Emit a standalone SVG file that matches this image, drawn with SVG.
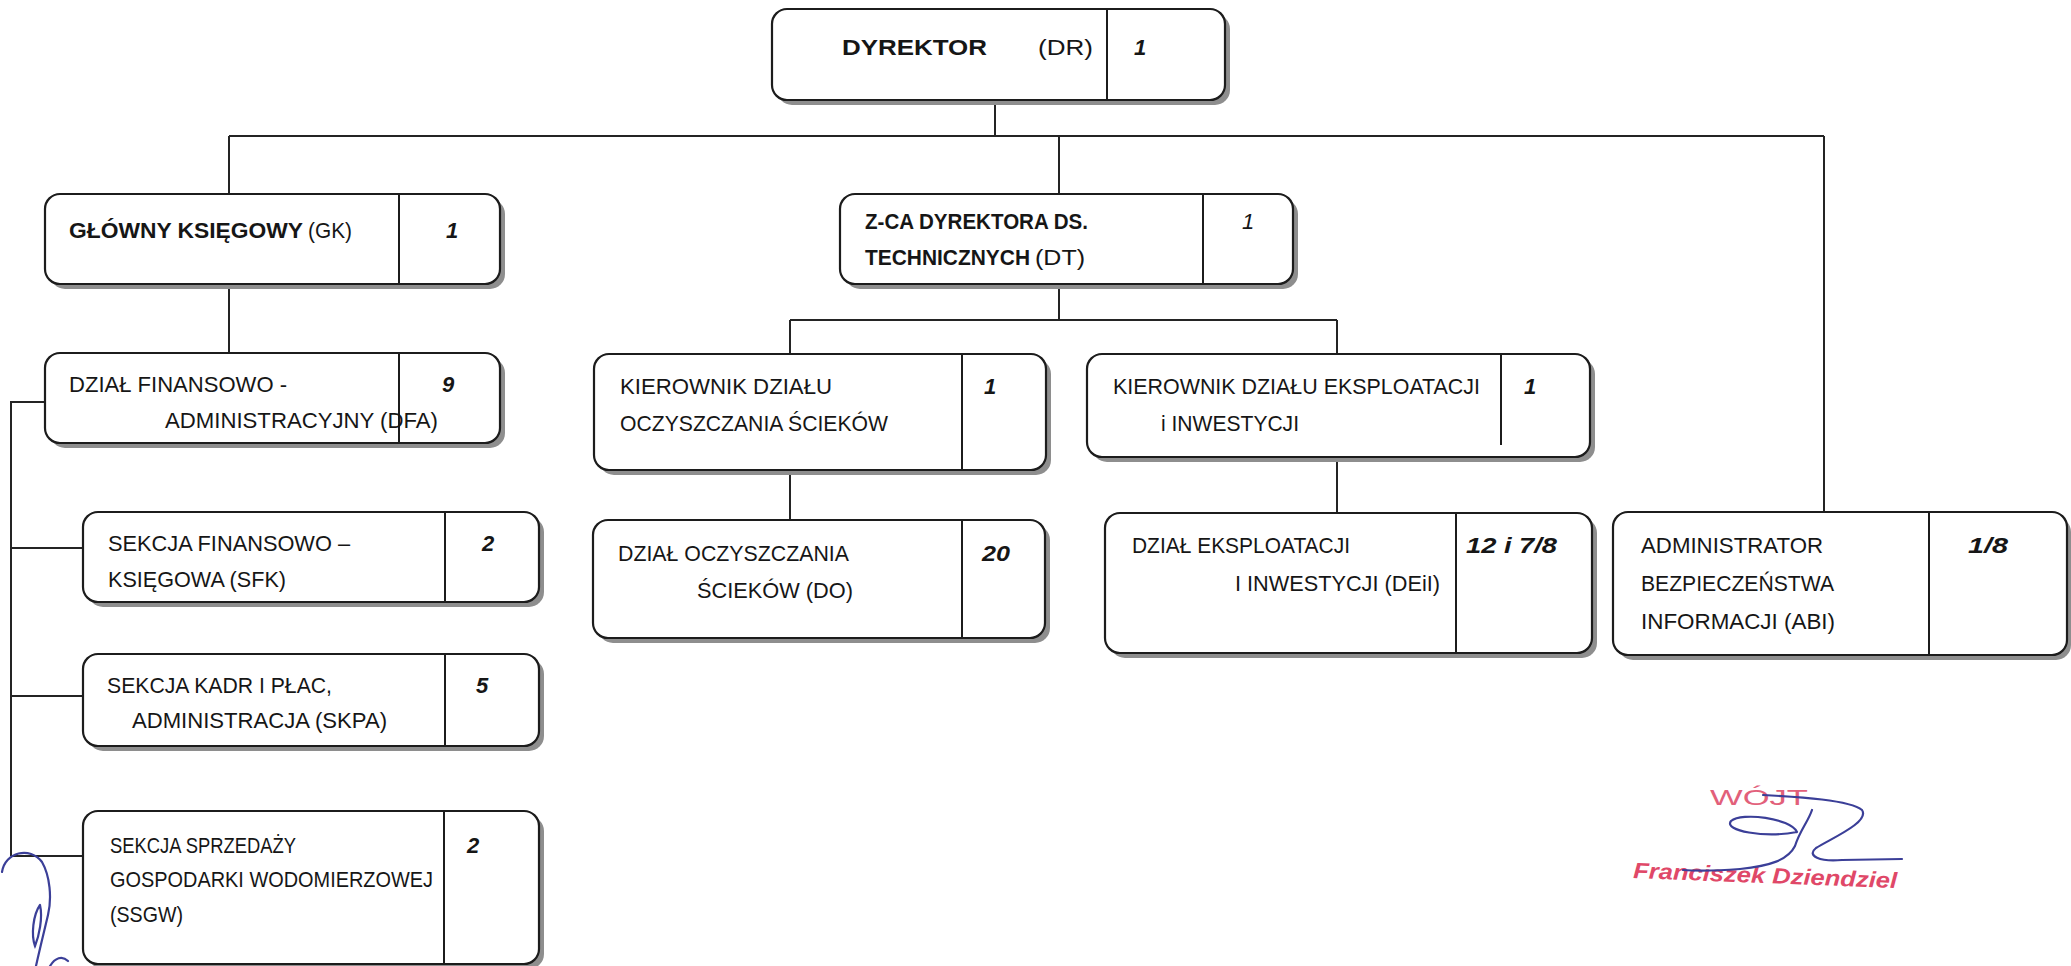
<svg xmlns="http://www.w3.org/2000/svg" width="2071" height="966" viewBox="0 0 2071 966">
<style>
.bx{fill:#fff;stroke:#1c1c1c;stroke-width:2.2}
.sh{fill:#8e8e8e}
.dv{stroke:#1c1c1c;stroke-width:2}
.cn{fill:none;stroke:#242424;stroke-width:2}
text{font-family:"Liberation Sans",Arial,sans-serif;fill:#161616;font-size:22px}
.b{font-weight:bold}
.n{font-weight:bold;font-style:italic}
.i{font-style:italic}
.sig{fill:none;stroke:#3b3f98;stroke-width:2.2;stroke-linecap:round}
</style>
<rect width="2071" height="966" fill="#fff"/>
<g id="connectors">
<path class="cn" d="M995,100 V136 M229,136 H1824 M229,136 V194 M1059,136 V194 M1824,136 V512"/>
<path class="cn" d="M229,284 V353"/>
<path class="cn" d="M1059,284 V320 M790,320 H1337 M790,320 V354 M1337,320 V354"/>
<path class="cn" d="M790,472 V520 M1337,444 V513"/>
<path class="cn" d="M45,402 H11 V856 M11,548 H83 M11,696 H83 M11,856 H83"/>
</g>
<g id="DR">
<rect class="sh" x="777" y="14" width="453" height="91" rx="15"/>
<rect class="bx" x="772" y="9" width="453" height="91" rx="15"/>
<line class="dv" x1="1107" y1="9" x2="1107" y2="100"/>
<text class="b" x="842" y="55" font-size="28" textLength="145" lengthAdjust="spacingAndGlyphs">DYREKTOR</text>
<text x="1038" y="55" font-size="27" textLength="55" lengthAdjust="spacingAndGlyphs">(DR)</text>
<text class="n" x="1134" y="55" font-size="26">1</text>
</g>
<g id="GK">
<rect class="sh" x="50" y="199" width="455" height="90" rx="15"/>
<rect class="bx" x="45" y="194" width="455" height="90" rx="15"/>
<line class="dv" x1="399" y1="194" x2="399" y2="284"/>
<text class="b" x="69" y="238" textLength="234" lengthAdjust="spacingAndGlyphs">GŁÓWNY KSIĘGOWY</text>
<text x="308" y="238" textLength="44" lengthAdjust="spacingAndGlyphs">(GK)</text>
<text class="n" x="446" y="238">1</text>
</g>
<g id="DT">
<rect class="sh" x="845" y="199" width="453" height="90" rx="15"/>
<rect class="bx" x="840" y="194" width="453" height="90" rx="15"/>
<line class="dv" x1="1203" y1="194" x2="1203" y2="284"/>
<text class="b" x="865" y="229" textLength="223" lengthAdjust="spacingAndGlyphs">Z-CA DYREKTORA DS.</text>
<text class="b" x="865" y="265" textLength="165" lengthAdjust="spacingAndGlyphs">TECHNICZNYCH</text>
<text x="1035" y="265" textLength="50" lengthAdjust="spacingAndGlyphs">(DT)</text>
<text class="i" x="1242" y="229">1</text>
</g>
<g id="DFA">
<rect class="sh" x="50" y="358" width="455" height="90" rx="15"/>
<rect class="bx" x="45" y="353" width="455" height="90" rx="15"/>
<line class="dv" x1="399" y1="353" x2="399" y2="443"/>
<text x="69" y="392" textLength="218" lengthAdjust="spacingAndGlyphs">DZIAŁ FINANSOWO -</text>
<text x="165" y="428" textLength="273" lengthAdjust="spacingAndGlyphs">ADMINISTRACYJNY (DFA)</text>
<text class="n" x="442" y="392">9</text>
</g>
<g id="SFK">
<rect class="sh" x="88" y="517" width="456" height="90" rx="15"/>
<rect class="bx" x="83" y="512" width="456" height="90" rx="15"/>
<line class="dv" x1="445" y1="512" x2="445" y2="602"/>
<text x="108" y="551" textLength="242" lengthAdjust="spacingAndGlyphs">SEKCJA FINANSOWO –</text>
<text x="108" y="587" textLength="178" lengthAdjust="spacingAndGlyphs">KSIĘGOWA (SFK)</text>
<text class="n" x="482" y="551">2</text>
</g>
<g id="SKPA">
<rect class="sh" x="88" y="659" width="456" height="92" rx="15"/>
<rect class="bx" x="83" y="654" width="456" height="92" rx="15"/>
<line class="dv" x1="445" y1="654" x2="445" y2="746"/>
<text x="107" y="693" textLength="225" lengthAdjust="spacingAndGlyphs">SEKCJA KADR I PŁAC,</text>
<text x="132" y="728" textLength="255" lengthAdjust="spacingAndGlyphs">ADMINISTRACJA (SKPA)</text>
<text class="n" x="476" y="693">5</text>
</g>
<g id="SSGW">
<rect class="sh" x="88" y="816" width="456" height="153" rx="15"/>
<rect class="bx" x="83" y="811" width="456" height="153" rx="15"/>
<line class="dv" x1="444" y1="811" x2="444" y2="964"/>
<text x="110" y="853" textLength="186" lengthAdjust="spacingAndGlyphs">SEKCJA SPRZEDAŻY</text>
<text x="110" y="887" textLength="323" lengthAdjust="spacingAndGlyphs">GOSPODARKI WODOMIERZOWEJ</text>
<text x="110" y="922" textLength="73" lengthAdjust="spacingAndGlyphs">(SSGW)</text>
<text class="n" x="467" y="853">2</text>
</g>
<g id="KDO">
<rect class="sh" x="599" y="359" width="452" height="116" rx="15"/>
<rect class="bx" x="594" y="354" width="452" height="116" rx="15"/>
<line class="dv" x1="962" y1="354" x2="962" y2="470"/>
<text x="620" y="394" textLength="212" lengthAdjust="spacingAndGlyphs">KIEROWNIK DZIAŁU</text>
<text x="620" y="431" textLength="268" lengthAdjust="spacingAndGlyphs">OCZYSZCZANIA ŚCIEKÓW</text>
<text class="n" x="984" y="394">1</text>
</g>
<g id="DO">
<rect class="sh" x="598" y="525" width="452" height="118" rx="15"/>
<rect class="bx" x="593" y="520" width="452" height="118" rx="15"/>
<line class="dv" x1="962" y1="520" x2="962" y2="638"/>
<text x="618" y="561" textLength="231" lengthAdjust="spacingAndGlyphs">DZIAŁ OCZYSZCZANIA</text>
<text x="697" y="598" textLength="156" lengthAdjust="spacingAndGlyphs">ŚCIEKÓW (DO)</text>
<text class="n" x="982" y="561" textLength="28" lengthAdjust="spacingAndGlyphs">20</text>
</g>
<g id="KDE">
<rect class="sh" x="1092" y="359" width="503" height="103" rx="15"/>
<rect class="bx" x="1087" y="354" width="503" height="103" rx="15"/>
<line class="dv" x1="1501" y1="354" x2="1501" y2="445"/>
<text x="1113" y="394" textLength="367" lengthAdjust="spacingAndGlyphs">KIEROWNIK DZIAŁU EKSPLOATACJI</text>
<text x="1161" y="431" textLength="138" lengthAdjust="spacingAndGlyphs">i INWESTYCJI</text>
<text class="n" x="1524" y="394">1</text>
</g>
<g id="DEiI">
<rect class="sh" x="1110" y="518" width="487" height="140" rx="15"/>
<rect class="bx" x="1105" y="513" width="487" height="140" rx="15"/>
<line class="dv" x1="1456" y1="513" x2="1456" y2="653"/>
<text x="1132" y="553" textLength="218" lengthAdjust="spacingAndGlyphs">DZIAŁ EKSPLOATACJI</text>
<text x="1235" y="591" textLength="205" lengthAdjust="spacingAndGlyphs">I INWESTYCJI (DEiI)</text>
<text class="n" x="1466" y="553" textLength="91" lengthAdjust="spacingAndGlyphs">12  i 7/8</text>
</g>
<g id="ABI">
<rect class="sh" x="1618" y="517" width="453" height="143" rx="15"/>
<rect class="bx" x="1613" y="512" width="454" height="143" rx="15"/>
<line class="dv" x1="1929" y1="512" x2="1929" y2="655"/>
<text x="1641" y="553" textLength="182" lengthAdjust="spacingAndGlyphs">ADMINISTRATOR</text>
<text x="1641" y="591" textLength="193" lengthAdjust="spacingAndGlyphs">BEZPIECZEŃSTWA</text>
<text x="1641" y="629" textLength="194" lengthAdjust="spacingAndGlyphs">INFORMACJI (ABI)</text>
<text class="n" x="1968" y="553" textLength="40" lengthAdjust="spacingAndGlyphs">1/8</text>
</g>
<g id="stamp">
<text x="1710" y="805" font-size="28" textLength="98" lengthAdjust="spacingAndGlyphs" style="fill:#e2607a">WÓJT</text>
<text class="n" x="1633" y="878" font-size="21" textLength="264" lengthAdjust="spacingAndGlyphs" transform="rotate(2.2 1633 878)" style="fill:#e04868">Franciszek Dziendziel</text>
<path class="sig" d="M1763,795 C1800,797 1850,800 1862,810 C1870,822 1832,838 1816,848 C1806,856 1820,862 1842,860 L1902,859"/>
<path class="sig" d="M1797,832 C1790,818 1742,812 1731,821 C1723,831 1765,838 1797,832"/>
<path class="sig" d="M1812,810 C1808,822 1800,830 1795,846 C1788,860 1770,866 1740,869 C1715,871 1695,871 1683,870"/>
</g>
<g id="signature-left">
<path class="sig" d="M2,872 C5,852 30,846 42,862 C50,876 52,898 48,915 C44,932 40,948 36,966"/>
<path class="sig" d="M40,905 C33,915 31,935 35,946 C39,936 43,918 40,905"/>
<path class="sig" d="M50,966 C55,958 62,955 68,961"/>
</g>
</svg>
